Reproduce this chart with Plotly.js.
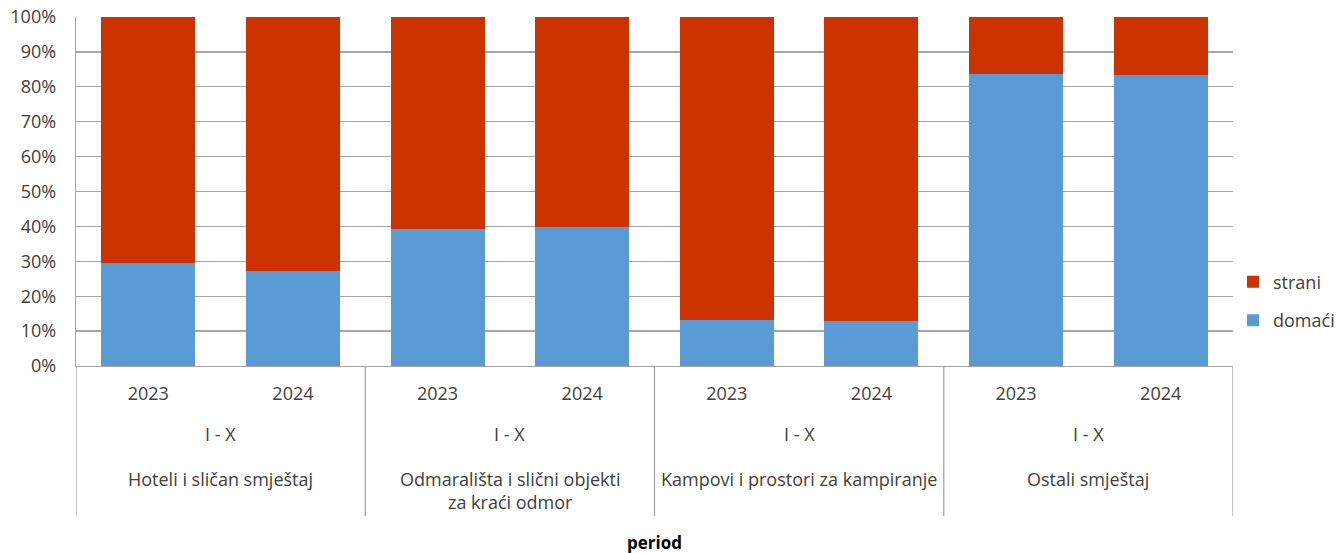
<!DOCTYPE html>
<html>
<head>
<meta charset="utf-8">
<script src="https://cdn.plot.ly/plotly-3.0.1.min.js"></script>
<style>html,body{margin:0;padding:0;background:#fff;}#chart{width:1342px;height:553px;}</style>
</head>
<body>
<div id="chart"></div>
<script>
// Data
const groups = ["Hoteli i sličan smještaj", "Odmarališta i slični objekti<br>za kraći odmor", "Kampovi i prostori za kampiranje", "Ostali smještaj"];
const period = "I - X";
const years = ["2023", "2024"];
const domaci = [29.5, 27.2, 39.3, 39.8, 13.2, 12.9, 83.7, 83.3];
const strani = [70.5, 72.8, 60.7, 60.2, 86.8, 87.1, 16.3, 16.7];
const yTicks = [0, 10, 20, 30, 40, 50, 60, 70, 80, 90, 100];
const yTickLabels = ["0%", "10%", "20%", "30%", "40%", "50%", "60%", "70%", "80%", "90%", "100%"];

const xIdx = [];
const yearLabels = [];
groups.forEach((g, gi) => years.forEach((y, yi) => { xIdx.push(gi * years.length + yi); yearLabels.push(y); }));

const font = {family: "Open Sans, sans-serif", size: 18, color: "#404040"};
const gridColor = "#A6A6A6";

const traces = [
  {type: "bar", name: "domaći", x: xIdx, y: domaci, marker: {color: "#5B9BD5", line: {width: 0}}, legendgroup: "d", legendrank: 2},
  {type: "bar", name: "strani", x: xIdx, y: strani, marker: {color: "#CC3300", line: {width: 0}}, legendgroup: "s", legendrank: 1}
];

const annotations = [];
const shapes = [];
groups.forEach((g, gi) => {
  const cx = gi * years.length + (years.length - 1) / 2;
  annotations.push({x: cx, xref: "x", y: -0.195, yref: "paper", text: period, showarrow: false, font: font, yanchor: "middle"});
  annotations.push({x: cx, xref: "x", y: -0.285, yref: "paper", text: g, showarrow: false, font: font, yanchor: "top"});
});
for (let i = 0; i <= groups.length; i++) {
  const xv = i * years.length - 0.5;
  shapes.push({type: "line", xref: "x", yref: "paper", x0: xv, x1: xv, y0: 0, y1: -0.43, line: {color: gridColor, width: 1.3}});
}
annotations.push({xref: "paper", x: 0.5, yref: "paper", y: -0.506, text: "<b>period</b>", showarrow: false, font: {family: "Open Sans, sans-serif", size: 17, color: "#000"}, yanchor: "middle"});

const layout = {
  width: 1342, height: 553,
  margin: {l: 76, r: 109, t: 17, b: 187, autoexpand: false},
  barmode: "stack",
  bargap: 0.35,
  paper_bgcolor: "#fff", plot_bgcolor: "#fff",
  font: font,
  showlegend: true,
  legend: {x: 1.0, xanchor: "left", y: 0.186, yanchor: "middle", traceorder: "grouped", tracegroupgap: 12, font: font, itemwidth: 30},
  xaxis: {
    range: [-0.5, xIdx.length - 0.5],
    tickvals: xIdx, ticktext: yearLabels,
    showgrid: false, zeroline: false,
    showline: true, linecolor: gridColor, linewidth: 1.3,
    ticks: "", ticklabelstandoff: 11,
    tickfont: font, fixedrange: true
  },
  yaxis: {
    range: [0, 100],
    tickvals: yTicks, ticktext: yTickLabels,
    showgrid: true, gridcolor: gridColor, gridwidth: 1.3,
    zeroline: false,
    showline: true, linecolor: gridColor, linewidth: 1.3,
    ticks: "outside", ticklen: 15, tickcolor: "rgba(0,0,0,0)", tickwidth: 1.3,
    tickfont: font, fixedrange: true
  },
  yaxis2: {
    overlaying: "y", side: "left", range: [0, 100],
    tickvals: yTicks, showticklabels: false,
    showgrid: false, zeroline: false, showline: false,
    ticks: "outside", ticklen: 6, tickcolor: gridColor, tickwidth: 1.3,
    fixedrange: true
  },
  annotations: annotations,
  shapes: shapes
};

Plotly.newPlot("chart", traces, layout, {displayModeBar: false, staticPlot: true});
</script>
</body>
</html>
